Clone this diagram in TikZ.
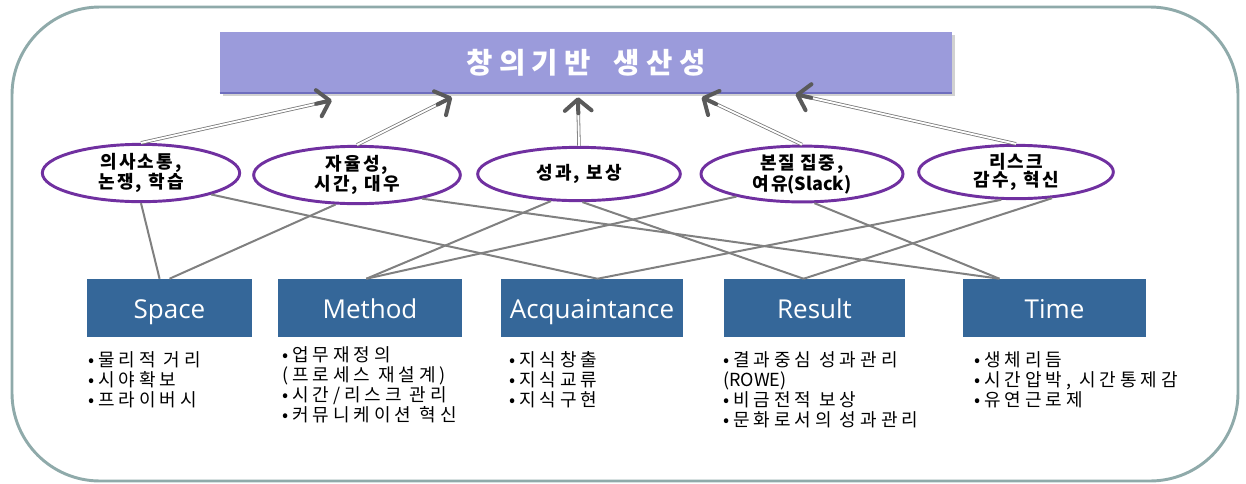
\documentclass[tikz,border=0pt]{standalone}
\usepackage{fontspec}
\setmainfont{Noto Sans CJK KR}
\newfontfamily\krfont[LetterSpace=22]{Noto Sans CJK KR}
\newfontfamily\krfontb[LetterSpace=12]{Noto Sans CJK KR}
\newfontfamily\latfont{Noto Sans CJK KR}
\newfontfamily\enfont{Open Sans}
\usetikzlibrary{shapes.geometric,arrows.meta,calc,shadows}
\definecolor{framec}{RGB}{143,170,170}
\definecolor{titlec}{RGB}{155,155,219}
\definecolor{titleedge}{RGB}{110,110,190}
\definecolor{purpc}{RGB}{112,48,160}
\definecolor{bluec}{RGB}{53,103,153}
\definecolor{linec}{RGB}{128,128,128}
\definecolor{shaftc}{RGB}{120,120,120}
\definecolor{headc}{RGB}{90,90,90}
\begin{document}
\begin{tikzpicture}[x=0.75pt,y=-0.75pt,
  titlebox/.style={rectangle, fill=titlec, inner sep=0pt, text=white,
    drop shadow={shadow xshift=2pt, shadow yshift=-2pt, opacity=0.3, fill=black!60},
    font=\krfont\bfseries\fontsize{21.5}{24}\selectfont},
  ellip/.style={ellipse, draw=purpc, line width=2.2pt, fill=white, inner sep=0pt, align=center,
    font=\krfontb\bfseries\fontsize{13.5}{13.5}\selectfont},
  cat/.style={rectangle, fill=bluec, inner sep=0pt, minimum height=43.5pt, text=white,
    text height=15pt, text depth=0pt,
    font=\enfont\fontsize{19.5}{22}\selectfont},
  lst/.style={anchor=north west, inner sep=0pt, align=left,
    font=\krfont\fontsize{13.5}{15}\selectfont},
  link/.style={draw=linec, line width=1.5pt},
  up/.style={draw=shaftc, line width=0.6pt, double=white, double distance=1.4pt, shorten >=1.5pt},
  head/.style={draw=headc, line width=3pt, line cap=round,
    -{Straight Barb[length=8.5pt,width=20pt,line width=3pt,round]}},
]
\useasboundingbox (0,0) rectangle (1246,483);
\draw[draw=framec, line width=2.2pt, rounded corners=66pt] (12,7) rectangle (1238,481);

% title
\node[titlebox, minimum width=549pt, minimum height=45.75pt] (title) at (586,62.5) {창의기반\hspace{0.8em}생산성};
\draw[titleedge, line width=1.5pt] (title.south west) -- (title.south east);

% ellipses
\node[ellip, minimum width=148pt, minimum height=43pt] (e1) at (141,173) {의사소통,\\논쟁, 학습};
\node[ellip, minimum width=155pt, minimum height=43pt] (e2) at (357,175) {자율성,\\시간, 대우};
\node[ellip, minimum width=152pt, minimum height=40pt] (e3) at (579,174) {성과, 보상};
\node[ellip, minimum width=151.5pt, minimum height=41.5pt] (e4) at (802,174) {본질\hspace{0.25em}집중,\\여유{\latfont\bfseries(Slack)}};
\node[ellip, minimum width=146pt, minimum height=40pt] (e5) at (1016,172) {리스크\\감수, 혁신};

% categories
\node[cat, minimum width=123.75pt] (space) at (169.5,308) {Space};
\node[cat, minimum width=138pt] (method) at (370,308) {Method};
\node[cat, minimum width=136.5pt] (acq) at (592,308) {Acquaintance};
\node[cat, minimum width=135.75pt] (result) at (814.5,308) {Result};
\node[cat, minimum width=137.25pt] (time) at (1054.5,308) {Time};

% lists
\node[lst] (l1) at (88,351) {•물리적 거리\\•시야확보\\•프라이버시};
\node[lst] (l2) at (282,346) {•업무재정의\\(프로세스 재설계)\\•시간/리스크 관리\\•커뮤니케이션 혁신};
\node[lst] (l3) at (509,351) {•지식창출\\•지식교류\\•지식구현};
\node[lst] (l4) at (723,351) {•결과중심 성과관리\\{\latfont(ROWE)}\\•비금전적 보상\\•문화로서의 성과관리};
\node[lst] (l5) at (974,351) {•생체리듬\\•시간압박, 시간통제감\\•유연근로제};

% top points of categories
\coordinate (sA) at ($(space.north west)!0.44!(space.north east)$);
\coordinate (sB) at ($(space.north west)!0.50!(space.north east)$);
\coordinate (mA) at ($(method.north west)!0.48!(method.north east)$);
\coordinate (aA) at ($(acq.north west)!0.53!(acq.north east)$);
\coordinate (rA) at ($(result.north west)!0.44!(result.north east)$);
\coordinate (tA) at ($(time.north west)!0.20!(time.north east)$);

\draw[link] (e1.-90) -- (sA);
\draw[link] (e1.-17) -- (aA);
\draw[link] (e2.-126) -- (sB);
\draw[link] (e2.-20) -- (tA);
\draw[link] (e3.-136) -- (mA);
\draw[link] (e3.-83) -- (rA);
\draw[link] (e4.-161) -- (mA);
\draw[link] (e4.-67) -- (tA);
\draw[link] (e5.-118) -- (aA);
\draw[link] (e5.-36) -- (rA);

% arrow tips under title
\coordinate (t1) at ($(title.south west)!0.153!(title.south east)+(0,7)$);
\coordinate (t2) at ($(title.south west)!0.317!(title.south east)+(0,4)$);
\coordinate (t3) at ($(title.south west)!0.489!(title.south east)+(0,4)$);
\coordinate (t4) at ($(title.south west)!0.658!(title.south east)+(0,4)$);
\coordinate (t5) at ($(title.south west)!0.786!(title.south east)+(0,1)$);

\draw[up] (e1.north) -- (t1);
\draw[up] (e2.north) -- (t2);
\draw[up] (e3.north) -- (t3);
\draw[up] (e4.north) -- (t4);
\draw[up] (e5.north) -- (t5);

\draw[head] ($(t1)!12pt!(e1.north)$) -- (t1);
\draw[head] ($(t2)!12pt!(e2.north)$) -- (t2);
\draw[head] ($(t3)!12pt!(e3.north)$) -- (t3);
\draw[head] ($(t4)!12pt!(e4.north)$) -- (t4);
\draw[head] ($(t5)!12pt!(e5.north)$) -- (t5);
\end{tikzpicture}
\end{document}
